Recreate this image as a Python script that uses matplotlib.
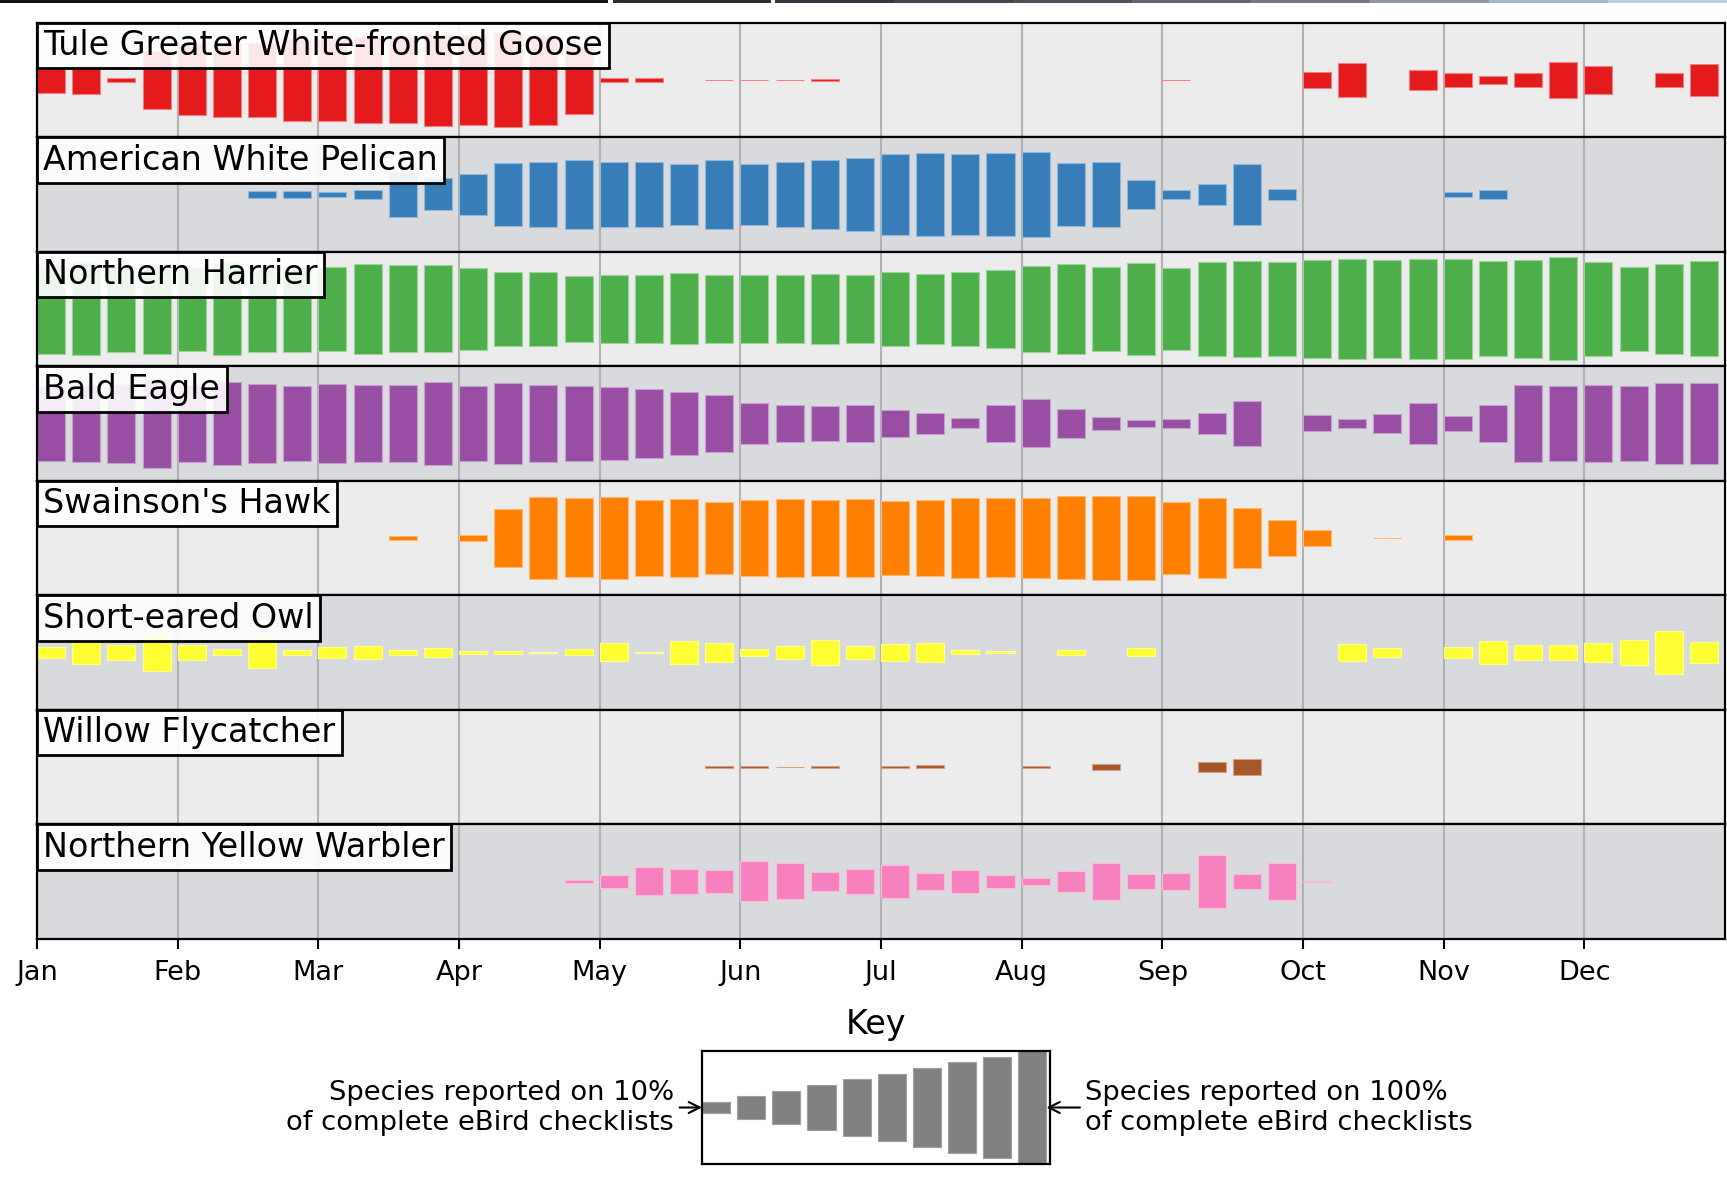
import matplotlib
matplotlib.use('Agg')
import matplotlib.pyplot as plt
import numpy as np
from matplotlib.offsetbox import AnchoredText
from matplotlib.colors import to_rgb
from matplotlib.patches import Rectangle

# ---------------- data ----------------
months = ['Jan', 'Feb', 'Mar', 'Apr', 'May', 'Jun', 'Jul', 'Aug', 'Sep', 'Oct', 'Nov', 'Dec']

species = ['Tule Greater White-fronted Goose', 'American White Pelican', 'Northern Harrier',
           'Bald Eagle', "Swainson's Hawk", 'Short-eared Owl', 'Willow Flycatcher',
           'Northern Yellow Warbler']

colors = ['#e41a1c', '#377eb8', '#4daf4a', '#984ea3', '#ff7f00', '#ffff33', '#a65628', '#f781bf']

# weekly frequency (fraction of complete checklists), 48 weeks
goose = [0.22, 0.24, 0.04, 0.50, 0.62, 0.65, 0.64, 0.71, 0.71, 0.75, 0.75, 0.80,
         0.78, 0.82, 0.78, 0.59, 0.038, 0.038, 0, 0.006, 0.006, 0.006, 0.02, 0,
         0, 0, 0, 0, 0, 0, 0, 0, 0.006, 0, 0, 0,
         0.146, 0.29, 0, 0.18, 0.13, 0.064, 0.12, 0.32, 0.25, 0, 0.13, 0.28]
pelican = [0, 0, 0, 0, 0, 0, 0.055, 0.055, 0.04, 0.076, 0.39, 0.28,
           0.36, 0.55, 0.57, 0.61, 0.56, 0.57, 0.53, 0.60, 0.53, 0.57, 0.60, 0.64,
           0.70, 0.73, 0.70, 0.73, 0.75, 0.55, 0.57, 0.26, 0.08, 0.18, 0.53, 0.10,
           0, 0, 0, 0, 0.047, 0.073, 0, 0, 0, 0, 0, 0]
harrier = [0.78, 0.80, 0.755, 0.78, 0.73, 0.80, 0.75, 0.75, 0.73, 0.78, 0.76, 0.76,
           0.71, 0.64, 0.64, 0.57, 0.59, 0.60, 0.62, 0.59, 0.59, 0.59, 0.61, 0.59,
           0.64, 0.61, 0.65, 0.68, 0.75, 0.78, 0.74, 0.81, 0.72, 0.82, 0.84, 0.82,
           0.85, 0.87, 0.86, 0.87, 0.88, 0.83, 0.85, 0.90, 0.82, 0.74, 0.78, 0.83]
eagle = [0.66, 0.68, 0.69, 0.78, 0.67, 0.725, 0.69, 0.66, 0.69, 0.675, 0.675, 0.73,
         0.66, 0.71, 0.675, 0.66, 0.64, 0.60, 0.55, 0.50, 0.36, 0.33, 0.31, 0.32,
         0.23, 0.19, 0.088, 0.32, 0.42, 0.26, 0.11, 0.064, 0.076, 0.19, 0.40, 0,
         0.14, 0.076, 0.16, 0.365, 0.13, 0.33, 0.68, 0.66, 0.675, 0.66, 0.71, 0.71]
hawk = [0, 0, 0, 0, 0, 0, 0, 0, 0, 0, 0.038, 0,
        0.058, 0.51, 0.71, 0.69, 0.72, 0.67, 0.68, 0.625, 0.67, 0.68, 0.67, 0.68,
        0.64, 0.67, 0.70, 0.69, 0.70, 0.725, 0.74, 0.74, 0.63, 0.70, 0.53, 0.315,
        0.146, 0, 0.005, 0, 0.044, 0, 0, 0, 0, 0, 0, 0]
owl = [0.093, 0.195, 0.125, 0.33, 0.134, 0.052, 0.27, 0.04, 0.10, 0.11, 0.04, 0.076,
       0.03, 0.03, 0.012, 0.052, 0.157, 0.006, 0.20, 0.17, 0.064, 0.11, 0.215, 0.11,
       0.15, 0.17, 0.035, 0.017, 0, 0.04, 0, 0.07, 0, 0, 0, 0,
       0, 0.15, 0.08, 0, 0.093, 0.20, 0.128, 0.128, 0.17, 0.22, 0.38, 0.18]
flycatcher = [0, 0, 0, 0, 0, 0, 0, 0, 0, 0, 0, 0,
              0, 0, 0, 0, 0, 0, 0, 0.012, 0.012, 0.005, 0.012, 0,
              0.012, 0.026, 0, 0, 0.012, 0, 0.06, 0, 0, 0.09, 0.137, 0,
              0, 0, 0, 0, 0, 0, 0, 0, 0, 0, 0, 0]
warbler = [0, 0, 0, 0, 0, 0, 0, 0, 0, 0, 0, 0,
           0, 0, 0, 0.02, 0.12, 0.245, 0.22, 0.20, 0.35, 0.315, 0.17, 0.22,
           0.29, 0.143, 0.20, 0.12, 0.06, 0.18, 0.33, 0.13, 0.155, 0.47, 0.13, 0.32,
           0.005, 0, 0, 0, 0, 0, 0, 0, 0, 0, 0, 0]

series = [goose, pelican, harrier, eagle, hawk, owl, flycatcher, warbler]

key_values = [0.1, 0.2, 0.3, 0.4, 0.5, 0.6, 0.7, 0.8, 0.9, 1.0]

# ---------------- figure ----------------
W, H = 1727, 1178
fig = plt.figure(figsize=(W / 100, H / 100), dpi=100)
fig.patch.set_facecolor('white')

bg_light = '#ececec'
bg_dark = '#d9dadd'

left_px, right_px = 37, 1725
top_px, panel_h = 22.7, 114.5


def lighten(c, f=0.5):
    r, g, b = to_rgb(c)
    return (r + (1 - r) * f, g + (1 - g) * f, b + (1 - b) * f)


axes = []
for i, (name, vals, col) in enumerate(zip(species, series, colors)):
    y_top = top_px + i * panel_h
    ax = fig.add_axes([left_px / W, 1 - (y_top + panel_h) / H,
                       (right_px - left_px) / W, panel_h / H])
    ax.set_facecolor(bg_light if i % 2 == 0 else bg_dark)
    ax.set_xlim(0, 48)
    ax.set_ylim(-0.5, 0.5)
    x = np.arange(48)
    v = np.array(vals, dtype=float)
    m = v > 0
    ax.bar(x[m], v[m], width=0.8, bottom=-v[m] / 2, align='edge', color=col,
           edgecolor=lighten(col, 0.45), linewidth=0.8, zorder=2)
    ax.set_xticks(np.arange(0, 48, 4))
    ax.set_yticks([])
    ax.xaxis.grid(True, color='#b2b2b2', linewidth=1.5, zorder=1)
    ax.set_axisbelow(True)
    for s in ax.spines.values():
        s.set_linewidth(1.6)
        s.set_color('black')
    if i < len(species) - 1:
        ax.tick_params(axis='x', length=0, labelbottom=False)
    else:
        ax.set_xticklabels(months, fontsize=19.5)
        ax.tick_params(axis='x', length=7, width=1.5, pad=8)
    at = AnchoredText(name, loc='upper left', pad=0.19, borderpad=0,
                      prop=dict(size=24), frameon=True)
    at.patch.set_boxstyle('square,pad=0')
    at.patch.set_facecolor((1, 1, 1, 0.9))
    at.patch.set_edgecolor('black')
    at.patch.set_linewidth(2)
    at.set_zorder(5)
    ax.add_artist(at)
    axes.append(ax)

# ---------------- key ----------------
kx0, kx1, ky0, ky1 = 702, 1050, 1051, 1164
kax = fig.add_axes([kx0 / W, 1 - ky1 / H, (kx1 - kx0) / W, (ky1 - ky0) / H])
kax.set_facecolor('white')
kax.set_xlim(0, 9.9)
kax.set_ylim(-0.5, 0.5)
kv = np.array(key_values)
kax.bar(np.arange(len(kv)), kv, width=0.8, bottom=-kv / 2, align='edge',
        color='#808080', edgecolor='#a0a0a0', linewidth=0.8)
kax.set_xticks([])
kax.set_yticks([])
for s in kax.spines.values():
    s.set_linewidth(1.6)
kax.set_title('Key', fontsize=24, pad=12)
kax.annotate('Species reported on 10%\nof complete eBird checklists', xy=(0, 0),
             xycoords='data', xytext=(-28, 0), textcoords='offset pixels',
             ha='right', va='center', fontsize=19.75, linespacing=1.2,
             arrowprops=dict(arrowstyle='->', lw=1.5, color='black',
                             shrinkA=2, shrinkB=0))
kax.annotate('Species reported on 100%\nof complete eBird checklists', xy=(9.8, 0),
             xycoords='data', xytext=(39, 0), textcoords='offset pixels',
             ha='left', va='center', fontsize=19.75, linespacing=1.2,
             arrowprops=dict(arrowstyle='->', lw=1.5, color='black',
                             shrinkA=2, shrinkB=0))

# ---------------- top strip (cropped edge in the source) ----------------
strip = fig.add_axes([0, 1 - 3 / H, 1, 3 / H])
strip.set_axis_off()
strip.set_xlim(0, W)
strip.set_ylim(0, 1)
strip.add_patch(Rectangle((0, 0), 608, 1, color='#111214', lw=0))
strip.add_patch(Rectangle((613, 0), 158, 1, color='#2a2d33', lw=0))
seg_cols = ['#343840', '#3f444d', '#4c525c', '#5e6470', '#757b86', '#8f96a3', '#a7b6c8', '#bccfe6']
seg_w = (W - 775) / len(seg_cols)
for j, c in enumerate(seg_cols):
    strip.add_patch(Rectangle((775 + j * seg_w, 0), seg_w + 0.5, 1, color=c, lw=0))

fig.savefig('out.png', dpi=100, facecolor='white')
